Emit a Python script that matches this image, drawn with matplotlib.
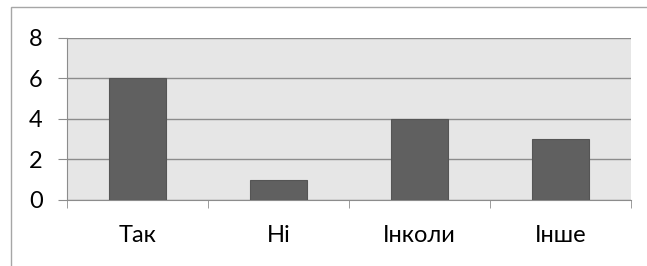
import matplotlib.pyplot as plt
from matplotlib.patches import Rectangle

# data
categories = ["Так", "Ні", "Інколи", "Інше"]
values = [6, 1, 4, 3]
y_ticks = [0, 2, 4, 6, 8]

plt.rcParams['font.family'] = ['Lato', 'DejaVu Sans']

fig = plt.figure(figsize=(6.47, 2.66), dpi=100)

# outer chart frame
fig.patches.append(Rectangle((11 / 647, -0.1), 1.2, 1 - 7 / 266 + 0.1,
                             transform=fig.transFigure, fill=False,
                             edgecolor="#a6a6a6", linewidth=1.0))

ax = fig.add_axes([67 / 647, 1 - 200 / 266, 564 / 647, 162.5 / 266])
ax.set_facecolor("#e6e6e6")

x = range(len(categories))
ax.bar(x, values, width=0.41, color="#606060", edgecolor="#555555",
       linewidth=0.8, zorder=3)

ax.set_xlim(-0.5, len(categories) - 0.5)
ax.set_ylim(0, 8)
ax.set_yticks(y_ticks)
ax.set_xticks(list(x))
ax.set_xticklabels(categories)
ax.set_xticks([i + 0.5 for i in range(-1, len(categories))], minor=True)

ax.grid(axis="y", color="#8c8c8c", linewidth=1.0, zorder=1)
ax.set_axisbelow(True)

for side in ["top", "right"]:
    ax.spines[side].set_visible(False)
for side in ["left", "bottom"]:
    ax.spines[side].set_color("#8c8c8c")

ax.tick_params(axis="y", length=6.5, color="#8c8c8c", labelsize=17, pad=11)
ax.tick_params(axis="x", which="major", length=0, labelsize=17, pad=18)
ax.tick_params(axis="x", which="minor", length=6, color="#8c8c8c")

fig.savefig("out.png", dpi=100)
